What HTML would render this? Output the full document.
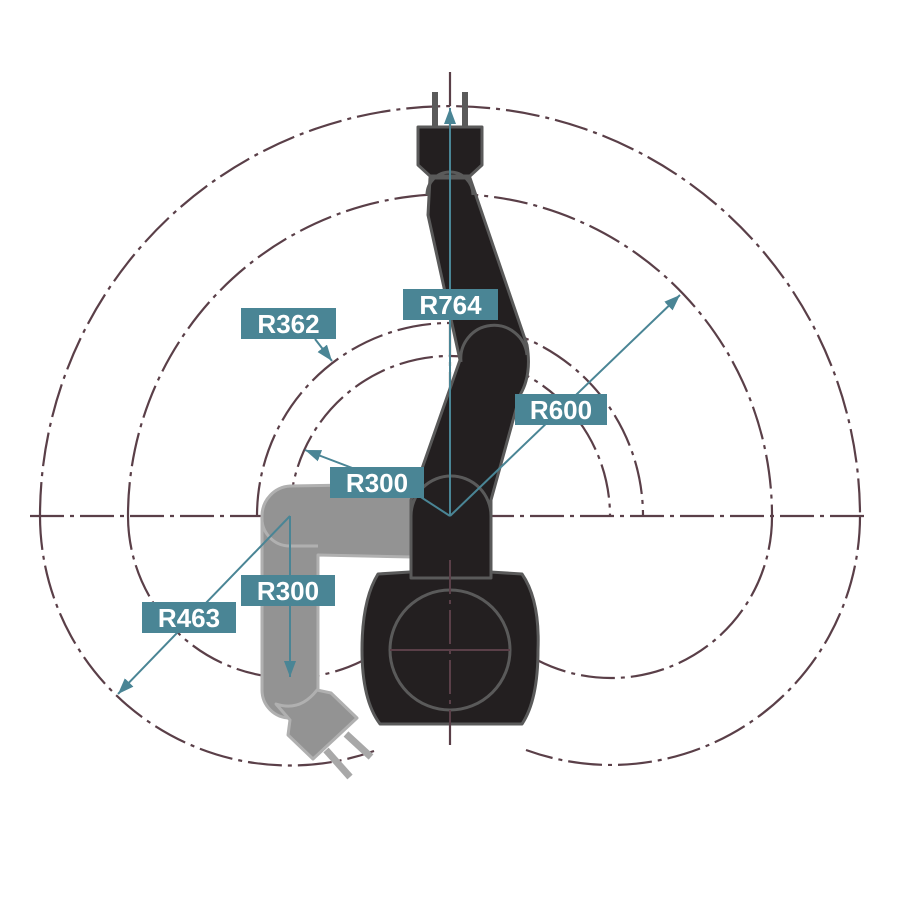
<!DOCTYPE html>
<html><head><meta charset="utf-8"><style>
html,body{margin:0;padding:0;background:#fff}
svg{display:block}
.lbl{font-family:"Liberation Sans",sans-serif;font-weight:bold;font-size:26px;fill:#fff}
</style></head><body>
<svg width="900" height="900" viewBox="0 0 900 900" xmlns="http://www.w3.org/2000/svg">
<defs>
<marker id="ah" viewBox="0 0 10 10" refX="10" refY="5" markerWidth="8" markerHeight="6" orient="auto-start-reverse" markerUnits="strokeWidth" preserveAspectRatio="none">
<path d="M0,0 L10,5 L0,10 z" fill="#4a8595"/></marker>
</defs>
<g fill="none" stroke="#5a3f48" stroke-width="2.2" stroke-dasharray="34,6,4,6">
<path d="M40,516 A410,410 0 0 1 860,516"/>
<path d="M128,516 A322,322 0 0 1 772,516"/>
<path d="M257,516 A193,193 0 0 1 643,516"/>
<path d="M290,516 A160,160 0 0 1 610,516"/>
<path d="M40,516 A250,250 0 0 0 374,751"/>
<path d="M128,516 A162,162 0 0 0 362,661"/>
<path d="M860,516 A249,249 0 0 1 526,750"/>
<path d="M772,516 A161,161 0 0 1 537,660"/>
<path d="M30,516 L870,516"/>
<path d="M450,72 L450,745"/>
</g>

<g fill="#939393" stroke="#b0b0b0" stroke-width="3" stroke-linejoin="round">
<path d="M290,486 L412,484 L412,557 L318,555 L318,690 A28,28 0 0 1 262,690 L262,516 A30,30 0 0 1 290,486 Z"/>
<path d="M276,704 L290,720 L288,735 L313,759 L357,718 L331,693 L317,690 Q300,712 276,704 Z"/>
</g>
<g fill="none" stroke="#b0b0b0" stroke-width="3">
<path d="M262,516 A28,28 0 0 0 290,546 L318,546"/>
</g>
<g stroke="#a8a8a8" stroke-width="7">
<line x1="326" y1="750" x2="350" y2="777"/>
<line x1="346" y1="734" x2="371" y2="757"/>
</g>

<g fill="#231f20" stroke="#5a5a5a" stroke-width="3" stroke-linejoin="round">
<path d="M378,574 L410,572 L490,572 L522,574 Q540,600 538,650 Q538,700 522,724 L380,724 Q362,700 362,650 Q362,600 378,574 Z"/>
<path d="M411,578 L411,500 L460,360 L428,215 L430,178 L470,178 L527,345 Q532,375 520,395 L491,500 L491,578 Z"/>
<path d="M418,127 L482,127 L482,165 L470,176 L430,176 L418,165 Z"/>
</g>
<g fill="none" stroke="#5a5a5a" stroke-width="3">
<path d="M411,516 A40,40 0 0 1 491,516"/>
<path d="M461,362 A33,33 0 0 1 527,355"/>
<path d="M427,195 A23,23 0 0 1 473,195"/>
<circle cx="450" cy="650" r="60"/>
</g>
<g fill="#5a5a5a">
<rect x="432" y="92" width="6" height="36"/>
<rect x="462" y="92" width="6" height="36"/>
</g>
<g stroke="#5a3f48" stroke-width="2">
<line x1="390" y1="650" x2="510" y2="650"/>
<line x1="450" y1="560" x2="450" y2="745" stroke-dasharray="34,6,4,6"/>
</g>

<g stroke="#4a8595" stroke-width="2" fill="none">
<line x1="450" y1="516" x2="450" y2="108" marker-end="url(#ah)"/>
<line x1="450" y1="516" x2="680" y2="295" marker-end="url(#ah)"/>
<polyline points="450,516 410,490 305,450" marker-end="url(#ah)"/>
<line x1="315" y1="339" x2="332" y2="361" marker-end="url(#ah)"/>
<line x1="290" y1="516" x2="290" y2="677" marker-end="url(#ah)"/>
<line x1="290" y1="516" x2="118" y2="694" marker-end="url(#ah)"/>
</g>

<g fill="#4a8595">
<rect x="403" y="289" width="95" height="31"/>
<rect x="241" y="308" width="95" height="31"/>
<rect x="515" y="394" width="92" height="31"/>
<rect x="330" y="467" width="94" height="31"/>
<rect x="241" y="575" width="94" height="31"/>
<rect x="142" y="602" width="94" height="31"/>
</g>
<g class="lbl" text-anchor="middle">
<text x="450.5" y="314">R764</text>
<text x="288.5" y="333">R362</text>
<text x="561" y="419">R600</text>
<text x="377" y="492">R300</text>
<text x="288" y="600">R300</text>
<text x="189" y="627">R463</text>
</g>
</svg>
</body></html>
